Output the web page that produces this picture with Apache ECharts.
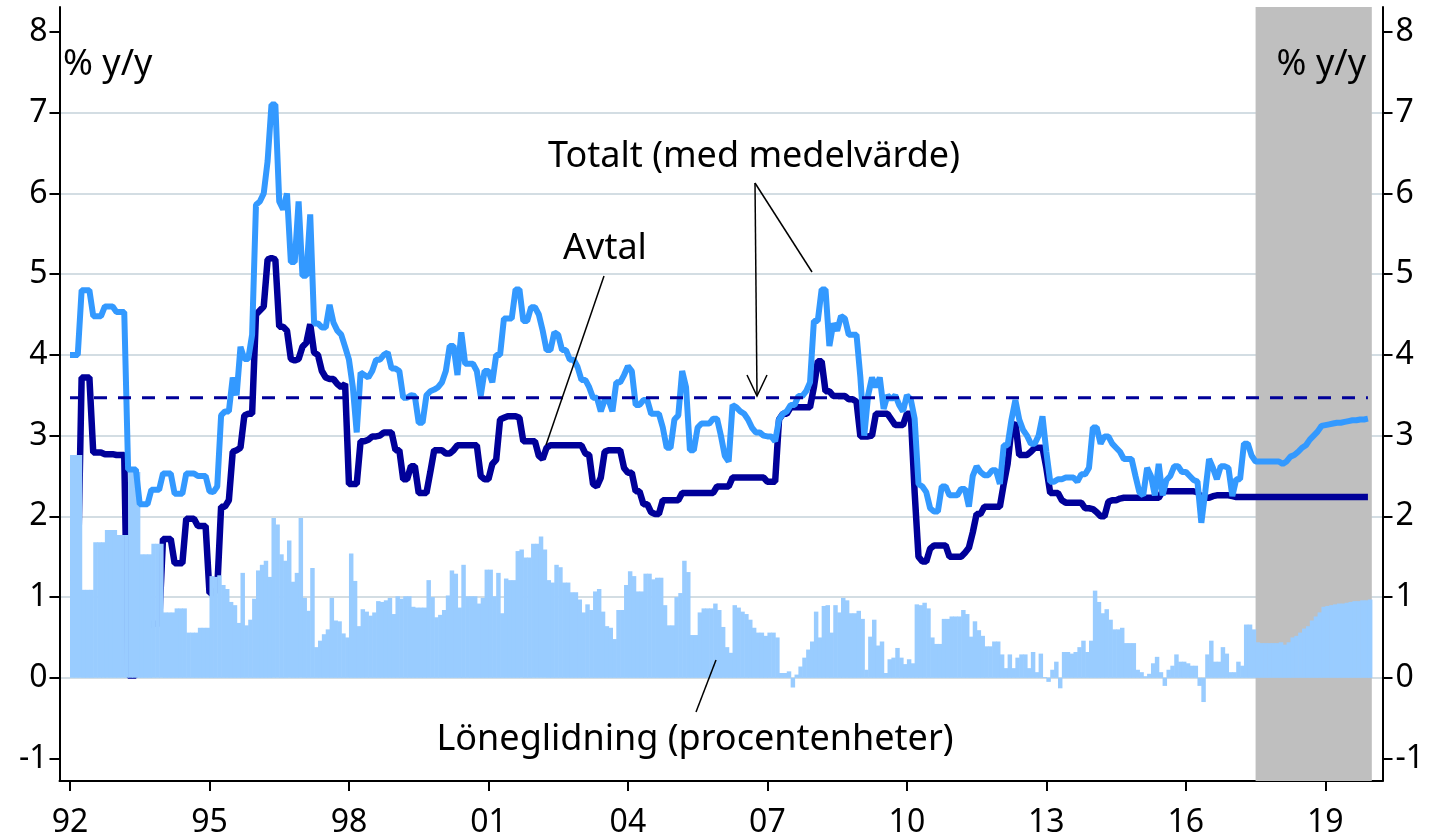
<!DOCTYPE html>
<html>
<head>
<meta charset="utf-8">
<script src="https://cdn.jsdelivr.net/npm/echarts@6/dist/echarts.min.js"></script>
<style>
  html, body { margin: 0; padding: 0; background: #fff; }
  #chart { width: 1441px; height: 839px; }
</style>
</head>
<body>
<div id="chart"></div>
<script>
// monthly data, Jan 1992 - Dec 2019 (one row per year)
const startYear = 1992;

const totalt = [
  4.0, 4.0, 4.0, 4.8, 4.8, 4.8, 4.48, 4.48, 4.48, 4.6, 4.6, 4.6,          // 1992
  4.53, 4.53, 4.53, 2.58, 2.58, 2.58, 2.15, 2.15, 2.15, 2.33, 2.33, 2.33, // 1993
  2.53, 2.53, 2.53, 2.28, 2.28, 2.28, 2.53, 2.53, 2.53, 2.5, 2.5, 2.5,    // 1994
  2.31, 2.3, 2.37, 3.25, 3.3, 3.3, 3.72, 3.5, 4.1, 3.95, 3.95, 4.25,      // 1995
  5.86, 5.9, 6.0, 6.4, 7.1, 7.1, 5.9, 5.8, 6.0, 5.15, 5.15, 5.9,          // 1996
  4.98, 4.98, 5.74, 4.39, 4.39, 4.34, 4.34, 4.62, 4.4, 4.3, 4.25, 4.1,    // 1997
  3.94, 3.6, 3.04, 3.78, 3.75, 3.72, 3.8, 3.94, 3.94, 4.0, 4.03, 3.83,    // 1998
  3.83, 3.8, 3.47, 3.47, 3.5, 3.49, 3.16, 3.16, 3.5, 3.55, 3.57, 3.6,     // 1999
  3.66, 3.8, 4.11, 4.11, 3.75, 4.28, 3.89, 3.89, 3.89, 3.8, 3.49, 3.8,    // 2000
  3.8, 3.66, 4.0, 4.0, 4.45, 4.45, 4.45, 4.81, 4.81, 4.42, 4.42, 4.59,    // 2001
  4.59, 4.5, 4.3, 4.06, 4.06, 4.28, 4.25, 4.06, 4.06, 3.94, 3.94, 3.85,   // 2002
  3.69, 3.69, 3.6, 3.47, 3.47, 3.3, 3.44, 3.44, 3.3, 3.66, 3.66, 3.75,    // 2003
  3.86, 3.8, 3.38, 3.38, 3.44, 3.44, 3.27, 3.27, 3.27, 3.1, 2.85, 2.85,   // 2004
  3.2, 3.25, 3.8, 3.6, 2.82, 2.82, 3.1, 3.15, 3.15, 3.15, 3.21, 3.21,     // 2005
  3.0, 2.75, 2.68, 3.38, 3.35, 3.3, 3.27, 3.2, 3.1, 3.04, 3.04, 3.0,      // 2006
  2.99, 2.99, 2.93, 3.2, 3.27, 3.3, 3.38, 3.38, 3.49, 3.49, 3.55, 3.66,   // 2007
  4.42, 4.42, 4.81, 4.81, 4.11, 4.39, 4.3, 4.48, 4.45, 4.25, 4.25, 4.25,  // 2008
  3.72, 3.0, 3.5, 3.72, 3.6, 3.72, 3.33, 3.5, 3.45, 3.5, 3.38, 3.3,       // 2009
  3.5, 3.45, 3.21, 2.4, 2.37, 2.3, 2.1, 2.06, 2.06, 2.37, 2.37, 2.26,     // 2010
  2.26, 2.26, 2.34, 2.34, 2.12, 2.5, 2.62, 2.55, 2.51, 2.51, 2.57, 2.57,  // 2011
  2.4, 2.88, 2.88, 3.2, 3.44, 3.2, 3.07, 3.0, 2.9, 2.9, 3.0, 3.24,        // 2012
  2.8, 2.43, 2.43, 2.46, 2.46, 2.48, 2.48, 2.48, 2.43, 2.52, 2.52, 2.6,   // 2013
  3.1, 3.1, 2.9, 2.99, 2.99, 2.9, 2.85, 2.8, 2.71, 2.71, 2.71, 2.5,       // 2014
  2.3, 2.26, 2.6, 2.5, 2.26, 2.65, 2.26, 2.45, 2.5, 2.62, 2.62, 2.55,     // 2015
  2.55, 2.5, 2.45, 2.43, 1.92, 2.3, 2.71, 2.6, 2.46, 2.62, 2.62, 2.6,     // 2016
  2.25, 2.46, 2.46, 2.9, 2.9, 2.75, 2.68, 2.68, 2.68, 2.68, 2.68, 2.68,   // 2017
  2.68, 2.65, 2.68, 2.74, 2.76, 2.8, 2.85, 2.88, 2.95, 3.0, 3.05, 3.12,   // 2018
  3.13, 3.14, 3.15, 3.16, 3.16, 3.17, 3.18, 3.19, 3.19, 3.2, 3.2, 3.21    // 2019
];

const avtal = [
  1.24, 1.24, 1.24, 3.72, 3.72, 3.72, 2.79, 2.79, 2.79, 2.77, 2.77, 2.77, // 1992
  2.76, 2.76, 2.76, 0.03, 0.03, 0.03, 0.62, 0.62, 0.62, 0.67, 0.67, 0.67, // 1993
  1.72, 1.72, 1.72, 1.42, 1.42, 1.42, 1.97, 1.97, 1.97, 1.88, 1.88, 1.88, // 1994
  1.05, 1.05, 1.1, 2.12, 2.12, 2.2, 2.8, 2.82, 2.85, 3.25, 3.27, 3.27,    // 1995
  4.5, 4.55, 4.6, 5.18, 5.2, 5.18, 4.35, 4.35, 4.3, 3.95, 3.93, 3.95,     // 1996
  4.1, 4.15, 4.38, 4.03, 4.0, 3.8, 3.72, 3.7, 3.7, 3.64, 3.6, 3.64,       // 1997
  2.4, 2.4, 2.4, 2.93, 2.93, 2.95, 2.99, 2.99, 3.0, 3.04, 3.04, 3.04,     // 1998
  2.82, 2.82, 2.46, 2.46, 2.62, 2.62, 2.29, 2.29, 2.29, 2.55, 2.82, 2.82, // 1999
  2.82, 2.78, 2.78, 2.82, 2.88, 2.88, 2.88, 2.88, 2.88, 2.88, 2.5, 2.46,  // 2000
  2.46, 2.65, 2.7, 3.2, 3.22, 3.24, 3.24, 3.24, 3.22, 2.93, 2.93, 2.93,   // 2001
  2.93, 2.75, 2.71, 2.85, 2.88, 2.88, 2.88, 2.88, 2.88, 2.88, 2.88, 2.88, // 2002
  2.88, 2.78, 2.76, 2.4, 2.37, 2.48, 2.8, 2.82, 2.82, 2.82, 2.82, 2.6,    // 2003
  2.54, 2.54, 2.31, 2.31, 2.15, 2.15, 2.05, 2.03, 2.03, 2.2, 2.2, 2.2,    // 2004
  2.2, 2.2, 2.29, 2.29, 2.29, 2.29, 2.29, 2.29, 2.29, 2.29, 2.29, 2.37,   // 2005
  2.37, 2.37, 2.37, 2.48, 2.48, 2.48, 2.48, 2.48, 2.48, 2.48, 2.48, 2.48, // 2006
  2.43, 2.43, 2.43, 3.2, 3.27, 3.27, 3.35, 3.35, 3.35, 3.35, 3.35, 3.35,  // 2007
  3.6, 3.92, 3.92, 3.55, 3.55, 3.49, 3.49, 3.49, 3.49, 3.45, 3.45, 3.42,  // 2008
  2.99, 2.99, 2.99, 3.0, 3.27, 3.27, 3.27, 3.27, 3.2, 3.13, 3.13, 3.13,   // 2009
  3.27, 3.27, 2.3, 1.5, 1.44, 1.44, 1.6, 1.64, 1.64, 1.64, 1.64, 1.5,     // 2010
  1.5, 1.5, 1.5, 1.55, 1.61, 1.8, 2.03, 2.03, 2.12, 2.12, 2.12, 2.12,     // 2011
  2.12, 2.4, 2.65, 3.1, 3.16, 2.76, 2.76, 2.76, 2.8, 2.85, 2.85, 2.85,    // 2012
  2.6, 2.29, 2.29, 2.29, 2.2, 2.17, 2.17, 2.17, 2.17, 2.17, 2.1, 2.1,     // 2013
  2.09, 2.05, 2.0, 2.0, 2.18, 2.2, 2.2, 2.22, 2.23, 2.23, 2.23, 2.23,     // 2014
  2.23, 2.23, 2.23, 2.23, 2.23, 2.23, 2.31, 2.31, 2.31, 2.31, 2.31, 2.31, // 2015
  2.31, 2.31, 2.31, 2.3, 2.23, 2.23, 2.23, 2.25, 2.26, 2.26, 2.26, 2.26,  // 2016
  2.25, 2.24, 2.24, 2.24, 2.24, 2.24, 2.24, 2.24, 2.24, 2.24, 2.24, 2.24, // 2017
  2.24, 2.24, 2.24, 2.24, 2.24, 2.24, 2.24, 2.24, 2.24, 2.24, 2.24, 2.24, // 2018
  2.24, 2.24, 2.24, 2.24, 2.24, 2.24, 2.24, 2.24, 2.24, 2.24, 2.24, 2.24  // 2019
];

const loneglidning = [
  2.76, 2.76, 2.76, 1.09, 1.09, 1.09, 1.68, 1.68, 1.68, 1.83, 1.83, 1.83, // 1992
  1.77, 1.77, 1.77, 2.55, 2.55, 2.55, 1.53, 1.53, 1.53, 1.66, 1.66, 1.66, // 1993
  0.81, 0.81, 0.81, 0.86, 0.86, 0.86, 0.56, 0.56, 0.56, 0.62, 0.62, 0.62, // 1994
  1.26, 1.25, 1.27, 1.15, 1.1, 0.94, 0.9, 0.68, 1.3, 0.65, 0.72, 0.98,    // 1995
  1.33, 1.4, 1.45, 1.25, 1.98, 1.9, 1.53, 1.45, 1.7, 1.19, 1.3, 1.98,     // 1996
  0.99, 0.83, 1.36, 0.38, 0.46, 0.54, 0.6, 0.99, 0.71, 0.7, 0.55, 0.5,    // 1997
  1.54, 1.2, 0.64, 0.85, 0.82, 0.77, 0.81, 0.95, 0.94, 0.96, 0.99, 0.79,  // 1998
  1.01, 0.98, 1.01, 1.01, 0.88, 0.87, 0.87, 0.87, 1.21, 1.0, 0.75, 0.78,  // 1999
  0.84, 1.02, 1.33, 1.29, 0.87, 1.4, 1.01, 1.01, 1.01, 0.92, 0.99, 1.34,  // 2000
  1.34, 1.01, 1.3, 0.8, 1.23, 1.21, 1.21, 1.57, 1.59, 1.49, 1.49, 1.66,   // 2001
  1.66, 1.75, 1.59, 1.21, 1.18, 1.4, 1.37, 1.18, 1.18, 1.06, 1.06, 0.97,  // 2002
  0.81, 0.91, 0.84, 1.07, 1.1, 0.82, 0.64, 0.62, 0.48, 0.84, 0.84, 1.15,  // 2003
  1.32, 1.26, 1.07, 1.07, 1.29, 1.29, 1.22, 1.24, 1.24, 0.9, 0.65, 0.65,  // 2004
  1.0, 1.05, 1.45, 1.31, 0.53, 0.53, 0.81, 0.86, 0.86, 0.86, 0.92, 0.84,  // 2005
  0.63, 0.38, 0.31, 0.9, 0.87, 0.82, 0.79, 0.72, 0.62, 0.56, 0.56, 0.52,  // 2006
  0.56, 0.56, 0.5, 0.06, 0.06, 0.08, -0.12, 0.04, 0.14, 0.25, 0.35, 0.45, // 2007
  0.82, 0.5, 0.89, 0.9, 0.56, 0.9, 0.81, 0.99, 0.96, 0.8, 0.8, 0.83,      // 2008
  0.73, 0.1, 0.51, 0.72, 0.4, 0.45, 0.06, 0.23, 0.25, 0.37, 0.25, 0.17,   // 2009
  0.23, 0.18, 0.91, 0.9, 0.93, 0.86, 0.5, 0.42, 0.42, 0.73, 0.73, 0.76,   // 2010
  0.76, 0.76, 0.84, 0.79, 0.51, 0.7, 0.59, 0.52, 0.39, 0.39, 0.45, 0.45,  // 2011
  0.29, 0.12, 0.29, 0.12, 0.25, 0.29, 0.29, 0.12, 0.32, 0.07, 0.3, 0.01,  // 2012
  -0.05, 0.1, 0.2, -0.13, 0.32, 0.32, 0.3, 0.32, 0.38, 0.46, 0.32, 0.46,  // 2013
  1.08, 0.94, 0.8, 0.85, 0.72, 0.6, 0.6, 0.62, 0.43, 0.43, 0.43, 0.1,     // 2014
  0.07, 0.02, 0.05, 0.18, 0.26, 0.07, -0.1, 0.1, 0.15, 0.29, 0.2, 0.2,    // 2015
  0.18, 0.15, 0.15, -0.1, -0.3, 0.29, 0.46, 0.2, 0.2, 0.38, 0.3, 0.07,    // 2016
  0.07, 0.2, 0.15, 0.66, 0.66, 0.6, 0.44, 0.43, 0.43, 0.43, 0.43, 0.43,   // 2017
  0.44, 0.41, 0.44, 0.5, 0.52, 0.56, 0.61, 0.64, 0.71, 0.76, 0.81, 0.88,  // 2018
  0.89, 0.9, 0.91, 0.92, 0.92, 0.93, 0.94, 0.95, 0.95, 0.96, 0.96, 0.97   // 2019
];

const medelvarde = 3.47;           // mean of Totalt (dashed line)
const prognosFran = 2017.5;        // shaded forecast period
const prognosTill = 2020;
const xTicks = [1992, 1995, 1998, 2001, 2004, 2007, 2010, 2013, 2016, 2019];
const yTicks = [-1, 0, 1, 2, 3, 4, 5, 6, 7, 8];

const font = 'Noto Sans';
const monthX = i => startYear + i / 12;
const toPairs = arr => arr.map((v, i) => [monthX(i), v]);

const chart = echarts.init(document.getElementById('chart'));

const yAxisBase = {
  type: 'value',
  min: -1.278,
  max: 8.309,
  splitNumber: 10,
  axisLine: { show: true, onZero: false, lineStyle: { color: '#000', width: 2 } },
  axisTick: { show: true, length: 10, customValues: yTicks, lineStyle: { color: '#000', width: 2 } },
  z: 1
};

const label = txt => ({ fontSize: 36, fontFamily: font, fill: '#000', text: txt, verticalAlign: 'middle' });

const option = {
  animation: false,
  backgroundColor: '#fff',
  grid: { left: 59.5, right: 58.5, top: 7, bottom: 55.5, containLabel: false },
  xAxis: {
    type: 'value',
    min: 1991.774,
    max: 2020.23,
    axisLine: { show: true, onZero: false, lineStyle: { color: '#000', width: 2 } },
    axisTick: { show: true, length: 10, customValues: xTicks, lineStyle: { color: '#000', width: 2 } },
    axisLabel: {
      customValues: xTicks,
      formatter: v => String(v).slice(2),
      fontSize: 32, color: '#000', fontFamily: font, margin: 26
    },
    splitLine: { show: false }
  },
  yAxis: [
    Object.assign({}, yAxisBase, {
      position: 'left',
      axisLabel: { customValues: yTicks, fontSize: 32, color: '#000', fontFamily: font, margin: 12 },
      splitLine: { show: true, showMinLine: false, showMaxLine: false, lineStyle: { color: '#D3DDE3', width: 2 } }
    }),
    Object.assign({}, yAxisBase, {
      position: 'right',
      axisLabel: { customValues: yTicks, fontSize: 32, color: '#000', fontFamily: font, margin: 13 },
      splitLine: { show: false }
    })
  ],
  series: [
    {
      // forecast shading
      type: 'line',
      data: [[prognosFran, 0]],
      showSymbol: false,
      lineStyle: { opacity: 0 },
      silent: true,
      z: 0,
      markArea: {
        silent: true,
        itemStyle: { color: '#BFBFBF' },
        data: [[{ xAxis: prognosFran }, { xAxis: prognosTill }]]
      }
    },
    {
      name: 'Avtal',
      type: 'line',
      data: toPairs(avtal),
      showSymbol: false,
      lineStyle: { color: '#000099', width: 6.5 },
      z: 2
    },
    {
      name: 'Löneglidning',
      type: 'custom',
      data: toPairs(loneglidning),
      z: 3,
      renderItem: (params, api) => {
        const x = api.value(0);
        const v = api.value(1);
        const p0 = api.coord([x, 0]);
        const p1 = api.coord([x + 1 / 12, v]);
        return {
          type: 'rect',
          shape: {
            x: p0[0],
            y: Math.min(p0[1], p1[1]),
            width: p1[0] - p0[0] + 0.6,
            height: Math.abs(p1[1] - p0[1])
          },
          style: { fill: '#99CCFF' }
        };
      }
    },
    {
      name: 'Totalt',
      type: 'line',
      data: toPairs(totalt),
      showSymbol: false,
      lineStyle: { color: '#3399FF', width: 6 },
      z: 4
    },
    {
      name: 'Medelvärde',
      type: 'line',
      data: [[startYear, medelvarde], [monthX(totalt.length - 1), medelvarde]],
      showSymbol: false,
      lineStyle: { color: '#000099', width: 3, type: [13, 11] },
      z: 5
    }
  ],
  graphic: [
    { type: 'text', x: 63, y: 65, z: 100, style: Object.assign(label('% y/y'), { align: 'left' }) },
    { type: 'text', x: 1366, y: 65, z: 100, style: Object.assign(label('% y/y'), { align: 'right' }) },
    { type: 'text', x: 754, y: 157, z: 100, style: Object.assign(label('Totalt (med medelvärde)'), { align: 'center' }) },
    { type: 'text', x: 605, y: 249, z: 100, style: Object.assign(label('Avtal'), { align: 'center' }) },
    { type: 'text', x: 695, y: 740, z: 100, style: Object.assign(label('Löneglidning (procentenheter)'), { align: 'center' }) },
    { type: 'line', z: 100, shape: { x1: 755, y1: 183, x2: 757, y2: 395 }, style: { stroke: '#000', lineWidth: 1.5 } },
    { type: 'polyline', z: 100, shape: { points: [[747, 375], [757, 396], [767, 375]] }, style: { stroke: '#000', lineWidth: 1.5, fill: null } },
    { type: 'line', z: 100, shape: { x1: 755, y1: 183, x2: 812, y2: 272 }, style: { stroke: '#000', lineWidth: 1.5 } },
    { type: 'line', z: 100, shape: { x1: 604, y1: 276, x2: 546, y2: 445 }, style: { stroke: '#000', lineWidth: 1.5 } },
    { type: 'line', z: 100, shape: { x1: 716, y1: 660, x2: 696, y2: 712 }, style: { stroke: '#000', lineWidth: 1.5 } }
  ]
};

chart.setOption(option);
</script>
</body>
</html>
